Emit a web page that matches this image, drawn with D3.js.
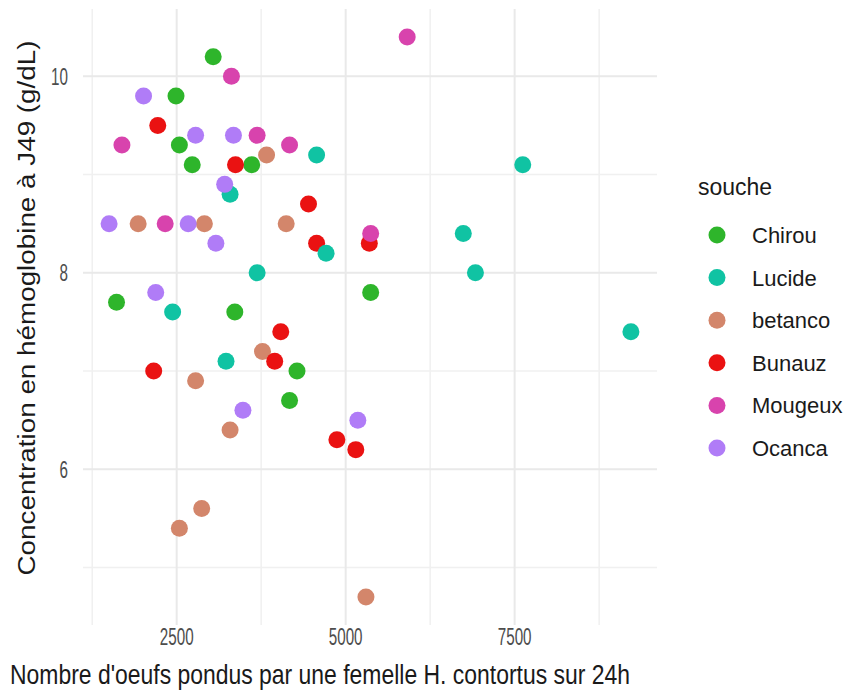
<!DOCTYPE html>
<html>
<head>
<meta charset="utf-8">
<script src="https://cdn.jsdelivr.net/npm/d3@7"></script>
<style>
  body { margin: 0; background: #fff; }
  text { font-family: "Liberation Sans", Arial, sans-serif; }
</style>
</head>
<body>
<div id="chart"></div>
<script>
// souche (strain) names, in legend order
var souches = ["Chirou", "Lucide", "betanco", "Bunauz", "Mougeux", "Ocanca"];
var couleurs = ["#2eb52b", "#10c3a3", "#d3866b", "#ea1212", "#d843ad", "#b07cf7"];

// eggs laid per female in 24h (x) / haemoglobin at J49 (y), one pair of arrays per strain
var chirouX = [3040, 2490, 2540, 2730, 3610, 5370, 1610, 3360, 4280, 4170];
var chirouY = [10.2, 9.8, 9.3, 9.1, 9.1, 7.8, 7.7, 7.6, 7.0, 6.7];
var lucideX = [4570, 3290, 4710, 3690, 2440, 3230, 7620, 6740, 6920, 9220];
var lucideY = [9.2, 8.8, 8.2, 8.0, 7.6, 7.1, 9.1, 8.4, 8.0, 7.4];
var betancoX = [3830, 1930, 2910, 4120, 3770, 2780, 3290, 2870, 2540, 5300];
var betancoY = [9.2, 8.5, 8.5, 8.5, 7.2, 6.9, 6.4, 5.6, 5.4, 4.7];
var bunauzX = [2220, 3370, 4450, 4570, 5350, 4040, 3950, 2160, 4870, 5150];
var bunauzY = [9.5, 9.1, 8.7, 8.3, 8.3, 7.4, 7.1, 7.0, 6.3, 6.2];
var mougeuxX = [3310, 1690, 3690, 4170, 2330, 5370, 5910];
var mougeuxY = [10.0, 9.3, 9.4, 9.3, 8.5, 8.4, 10.4];
var ocancaX = [2010, 2780, 3340, 3210, 1500, 2670, 3080, 2190, 3480, 5180];
var ocancaY = [9.8, 9.4, 9.4, 8.9, 8.5, 8.5, 8.3, 7.8, 6.6, 6.5];

var xMajor = [2500, 5000, 7500];
var xMinor = [1250, 3750, 6250, 8750];
var yMajor = [6, 8, 10];
var yMinor = [5, 7, 9];

var xTitle = "Nombre d'oeufs pondus par une femelle H. contortus sur 24h";
var yTitle = "Concentration en hémoglobine à J49 (g/dL)";

var width = 845, height = 698;
var panel = {left: 83, right: 657, top: 9, bottom: 625};

// draw order (teal over red, magenta over red like the original)
var ordre = ["Chirou", "betanco", "Bunauz", "Lucide", "Mougeux", "Ocanca"];
var series = {
    Chirou: [chirouX, chirouY],
    Lucide: [lucideX, lucideY],
    betanco: [betancoX, betancoY],
    Bunauz: [bunauzX, bunauzY],
    Mougeux: [mougeuxX, mougeuxY],
    Ocanca: [ocancaX, ocancaY]
};
var data = [];
ordre.forEach(function (s) {
    series[s][0].forEach(function (x, i) {
        data.push({souche: s, x: x, y: series[s][1][i]});
    });
});

var color = d3.scaleOrdinal().domain(souches).range(couleurs);

function expand(ext) {
    var d = (ext[1] - ext[0]) * 0.05;
    return [ext[0] - d, ext[1] + d];
}
var xScale = d3.scaleLinear()
    .domain(expand(d3.extent(data, function (d) { return d.x; })))
    .range([panel.left, panel.right]);
var yScale = d3.scaleLinear()
    .domain(expand(d3.extent(data, function (d) { return d.y; })))
    .range([panel.bottom, panel.top]);

var svg = d3.select("#chart").append("svg")
    .attr("width", width)
    .attr("height", height)
    .style("background-color", "#fff");

// grid
var grid = svg.append("g").attr("class", "grid");
grid.selectAll(".vminor").data(xMinor).enter().append("line")
    .attr("x1", function (d) { return xScale(d); })
    .attr("x2", function (d) { return xScale(d); })
    .attr("y1", panel.top).attr("y2", panel.bottom)
    .attr("stroke", "#f0f0f0").attr("stroke-width", 1.5);
grid.selectAll(".hminor").data(yMinor).enter().append("line")
    .attr("y1", function (d) { return yScale(d); })
    .attr("y2", function (d) { return yScale(d); })
    .attr("x1", panel.left).attr("x2", panel.right)
    .attr("stroke", "#f0f0f0").attr("stroke-width", 1.5);
grid.selectAll(".vmajor").data(xMajor).enter().append("line")
    .attr("x1", function (d) { return xScale(d); })
    .attr("x2", function (d) { return xScale(d); })
    .attr("y1", panel.top).attr("y2", panel.bottom)
    .attr("stroke", "#e9e9e9").attr("stroke-width", 2);
grid.selectAll(".hmajor").data(yMajor).enter().append("line")
    .attr("y1", function (d) { return yScale(d); })
    .attr("y2", function (d) { return yScale(d); })
    .attr("x1", panel.left).attr("x2", panel.right)
    .attr("stroke", "#e9e9e9").attr("stroke-width", 2);

// tick labels
svg.selectAll(".ylab").data(yMajor).enter().append("text")
    .attr("class", "ylab")
    .attr("transform", function (d) { return "translate(68," + (yScale(d) + 8.5) + ") scale(0.8,1.25)"; })
    .attr("text-anchor", "end")
    .attr("fill", "#4d4d4d")
    .style("font-size", "19px")
    .text(function (d) { return d; });

svg.selectAll(".xlab").data(xMajor).enter().append("text")
    .attr("class", "xlab")
    .attr("transform", function (d) { return "translate(" + xScale(d) + ",645) scale(0.8,1.25)"; })
    .attr("text-anchor", "middle")
    .attr("fill", "#4d4d4d")
    .style("font-size", "19px")
    .text(function (d) { return d; });

// points
svg.append("g").selectAll("circle").data(data).enter().append("circle")
    .attr("cx", function (d) { return xScale(d.x); })
    .attr("cy", function (d) { return yScale(d.y); })
    .attr("r", 8.5)
    .attr("fill", function (d) { return color(d.souche); });

// axis titles
svg.append("text")
    .attr("transform", "translate(10,684) scale(1,1.12)")
    .attr("textLength", 620)
    .attr("lengthAdjust", "spacingAndGlyphs")
    .attr("fill", "#1a1a1a")
    .style("font-size", "24px")
    .text(xTitle);

svg.append("text")
    .attr("transform", "translate(35,308) rotate(-90)")
    .attr("text-anchor", "middle")
    .attr("textLength", 535)
    .attr("lengthAdjust", "spacingAndGlyphs")
    .attr("fill", "#1a1a1a")
    .style("font-size", "23px")
    .text(yTitle);

// legend
var legend = svg.append("g").attr("class", "legend");
legend.append("text")
    .attr("x", 698).attr("y", 195)
    .attr("fill", "#1a1a1a")
    .style("font-size", "23px")
    .text("souche");

var item = legend.selectAll(".item").data(souches).enter().append("g")
    .attr("class", "item")
    .attr("transform", function (d, i) { return "translate(0," + (235 + i * 42.6) + ")"; });
item.append("circle")
    .attr("cx", 717).attr("cy", 0).attr("r", 8.5)
    .attr("fill", function (d) { return color(d); });
item.append("text")
    .attr("x", 752).attr("y", 8)
    .attr("fill", "#1a1a1a")
    .style("font-size", "22px")
    .text(function (d) { return d; });
</script>
</body>
</html>
